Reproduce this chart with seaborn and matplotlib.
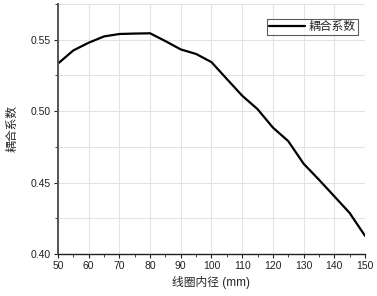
import numpy as np
import pandas as pd
import seaborn as sns
import matplotlib.pyplot as plt
from matplotlib.ticker import MultipleLocator

# 线圈内径 (mm) 与 耦合系数
diameter = [50, 55, 60, 65, 70, 75, 80, 85, 90, 95, 100, 105, 110, 115, 120, 125, 130, 135, 140, 145, 150]
coupling = [0.5333, 0.5425, 0.5479, 0.5523, 0.5540, 0.5543, 0.5545, 0.5490, 0.5432, 0.5400, 0.5343,
            0.5225, 0.5108, 0.5014, 0.4885, 0.4790, 0.4632, 0.4520, 0.4404, 0.4287, 0.4127]

df = pd.DataFrame({"线圈内径": diameter, "耦合系数": coupling})

sns.set_style("white")
plt.rcParams['font.family'] = ['Liberation Sans', 'Noto Sans CJK SC', 'DejaVu Sans']

fig = plt.figure(figsize=(3.77, 2.96), dpi=100)
ax = fig.add_axes([0.1538, 0.1419, 0.8144, 0.8446])

sns.lineplot(data=df, x="线圈内径", y="耦合系数", color="black", linewidth=1.6,
             label="耦合系数", ax=ax)

ax.set_xlim(50, 150)
ax.set_ylim(0.40, 0.575)
ax.xaxis.set_major_locator(MultipleLocator(10))
ax.xaxis.set_minor_locator(MultipleLocator(5))
ax.yaxis.set_major_locator(MultipleLocator(0.05))
ax.yaxis.set_minor_locator(MultipleLocator(0.025))
ax.set_yticks([0.40, 0.45, 0.50, 0.55])
ax.set_yticklabels(["0.40", "0.45", "0.50", "0.55"])

ax.grid(True, which="major", color="#e3e3e3", linewidth=0.8)
ax.grid(True, which="minor", axis="y", color="#e3e3e3", linewidth=0.8)
ax.set_axisbelow(True)

for side in ["top", "right"]:
    ax.spines[side].set_visible(False)
ax.spines["left"].set_color("#555555")
ax.spines["left"].set_linewidth(1.4)
ax.spines["bottom"].set_color("#222222")
ax.spines["bottom"].set_linewidth(1.0)

ax.tick_params(axis="both", which="major", direction="out", length=3, width=0.8,
               labelsize=7.5, colors="#222222", bottom=True, left=True, pad=2)
ax.tick_params(axis="both", which="minor", direction="out", length=2, width=0.6,
               bottom=True, left=True, colors="#222222")

ax.set_xlabel("线圈内径 (mm)", fontsize=8.5, labelpad=4)
ax.set_ylabel("耦合系数", fontsize=8.5, labelpad=9)

leg = ax.legend(loc="upper right", fontsize=8.5, frameon=True, fancybox=False,
                edgecolor="#333333", handlelength=3.0, borderpad=0.2,
                handletextpad=0.3, bbox_to_anchor=(0.995, 0.965))
leg.get_frame().set_linewidth(0.8)

plt.savefig("out.png", dpi=100)
